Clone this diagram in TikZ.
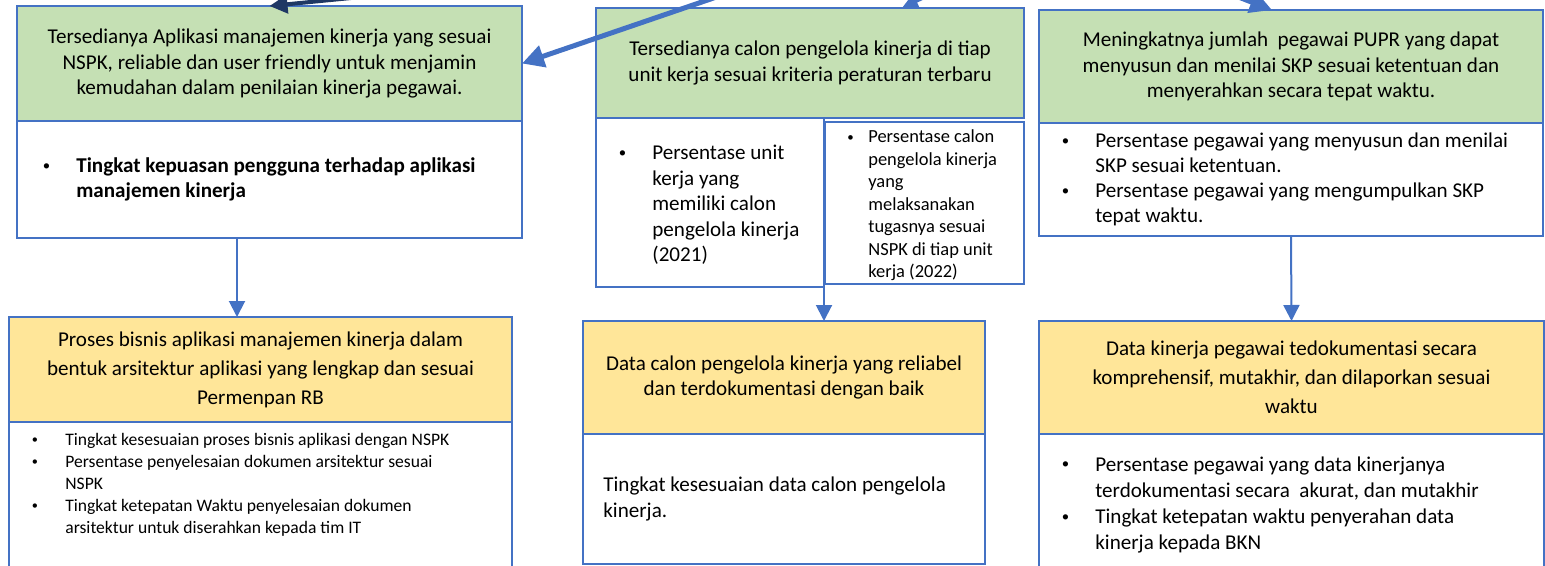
\documentclass[tikz,border=0pt]{standalone}
\usepackage{fontspec}
\setmainfont{Carlito}
\usetikzlibrary{arrows.meta,positioning}
\definecolor{bord}{HTML}{4472C4}
\definecolor{grn}{HTML}{C5E0B4}
\definecolor{ylw}{HTML}{FFE699}
\definecolor{navy}{HTML}{1F3864}
\tikzset{
  box/.style={draw=bord, line width=0.4mm, anchor=north west, inner sep=0pt, outer sep=0pt},
  goal/.style={box, fill=grn},
  outp/.style={box, fill=ylw},
  ind/.style={box, fill=white},
  hd/.style={font=\fontsize{12}{14.5}\selectfont, align=center},
  hdw/.style={font=\fontsize{12}{16.5}\selectfont, align=center},
  txt/.style={font=\fontsize{12}{14.5}\selectfont, align=left, inner sep=0pt, anchor=west},
  stxt/.style={txt, font=\fontsize{10}{12.5}\selectfont},
  vert/.style={-{Triangle[length=3.2mm,width=3.2mm]}, draw=bord, line width=0.4mm},
  fatarr/.style={-{Triangle[length=4.4mm,width=4.4mm]}, draw=bord, line width=1mm},
  navyarr/.style={-{Triangle[length=3.6mm,width=3.6mm]}, draw=navy, line width=0.8mm},
}
\newcommand{\bul}[1][6.7mm]{\llap{\makebox[#1][l]{\raisebox{0.2ex}{\scalebox{0.7}{\textbullet}}}}}

\begin{document}
\begin{tikzpicture}[x=0.2mm,y=-0.2mm]
\useasboundingbox (0,0) rectangle (1545,565);
\clip (0,0) rectangle (1545,565);

% ============ left column: aplikasi manajemen kinerja ============
\node[goal, minimum width=101mm, minimum height=23mm, hd] (g1) at (17,6)
  {Tersedianya Aplikasi manajemen kinerja yang sesuai\\NSPK, reliable dan user friendly untuk menjamin\\kemudahan dalam penilaian kinerja pegawai.};
\node[ind, minimum width=101mm, minimum height=23.4mm] (w1) at (17,121) {};
\node[txt] (w1t) at ([xshift=11.8mm]w1.west)
  {\bul\textbf{Tingkat kepuasan pengguna terhadap aplikasi}\\\textbf{manajemen kinerja}};
\node[outp, minimum width=100.6mm, minimum height=21mm, hdw] (y1) at (9,317)
  {Proses bisnis aplikasi manajemen kinerja dalam\\bentuk arsitektur aplikasi yang lengkap dan sesuai\\Permenpan RB};
\node[ind, minimum width=100.6mm, minimum height=32mm] (w4) at (9,422) {};
\node[stxt, anchor=north west] (w4t) at ([xshift=11.2mm,yshift=-2.2mm]w4.north west)
  {\bul Tingkat kesesuaian proses bisnis aplikasi dengan NSPK\\
   \bul Persentase penyelesaian dokumen arsitektur sesuai\\NSPK\\
   \bul Tingkat ketepatan Waktu penyelesaian dokumen\\arsitektur untuk diserahkan kepada tim IT};

% ============ middle column: calon pengelola kinerja ============
\node[goal, minimum width=85.6mm, minimum height=22mm, hd] (g2) at (596,8)
  {Tersedianya calon pengelola kinerja di tiap\\unit kerja sesuai kriteria peraturan terbaru};
\node[ind, minimum width=45.6mm, minimum height=33.8mm] (wl2) at (596,118) {};
\node[txt] (wl2t) at ([xshift=11.2mm,yshift=-0.5mm]wl2.west)
  {\bul Persentase unit\\kerja yang\\memiliki calon\\pengelola kinerja\\(2021)};
\node[ind, minimum width=39.8mm, minimum height=32.4mm] (wr2) at (825,122) {};
\node[txt, font=\fontsize{10.5}{12.8}\selectfont] (wr2t) at ([xshift=8.6mm,yshift=-0.5mm]wr2.west)
  {\bul[4.2mm]Persentase calon\\pengelola kinerja\\yang\\melaksanakan\\tugasnya sesuai\\NSPK di tiap unit\\kerja (2022)};
\node[outp, minimum width=80.4mm, minimum height=22.6mm, hd] (y2) at (583,321)
  {Data calon pengelola kinerja yang reliabel\\dan terdokumentasi dengan baik};
\node[ind, minimum width=80.4mm, minimum height=26mm] (w5) at (583,434) {};
\node[txt, font=\fontsize{12}{14.8}\selectfont] (w5t) at ([xshift=4mm]w5.west)
  {Tingkat kesesuaian data calon pengelola\\kinerja.};

% ============ right column: SKP pegawai ============
\node[goal, minimum width=100.8mm, minimum height=22.6mm, hd] (g3) at (1039,10)
  {Meningkatnya jumlah\ \ pegawai PUPR yang dapat\\menyusun dan menilai SKP sesuai ketentuan dan\\menyerahkan secara tepat waktu.};
\node[ind, minimum width=100.8mm, minimum height=22.6mm] (w3) at (1039,123) {};
\node[txt, font=\fontsize{12}{14.3}\selectfont] (w3t) at ([xshift=11.2mm]w3.west)
  {\bul Persentase pegawai yang menyusun dan menilai\\SKP sesuai ketentuan.\\
   \bul Persentase pegawai yang mengumpulkan SKP\\tepat waktu.};
\node[outp, minimum width=101mm, minimum height=22.6mm, hdw] (y3) at (1039,321)
  {Data kinerja pegawai tedokumentasi secara\\komprehensif, mutakhir, dan dilaporkan sesuai\\waktu};
\node[ind, minimum width=101mm, minimum height=30mm] (w6) at (1039,434) {};
\node[txt, font=\fontsize{12}{14.8}\selectfont, anchor=north west] (w6t) at ([xshift=11.2mm,yshift=-4.4mm]w6.north west)
  {\bul Persentase pegawai yang data kinerjanya\\terdokumentasi secara\ \ akurat, dan mutakhir\\
   \bul Tingkat ketepatan waktu penyerahan data\\kinerja kepada BKN};

% ============ connectors ============
\coordinate (c1) at (237,0);
\draw[vert] (w1.south -| c1) -- (y1.north -| c1);
\draw[vert] (wl2.south east) -- (y2.north -| wl2.south east);
\draw[vert] (w3.south) -- (y3.north);

% incoming arrows from above the frame
\coordinate (srcA) at (402,-7);
\coordinate (srcB) at (772,-22);
\coordinate (srcC) at (962,-20);
\coordinate (srcD) at (1192,-21);
\draw[navyarr] (srcA) -- (g1.north);
\draw[fatarr] (srcB) -- (g1.east);
\draw[vert, line width=0.6mm] (srcC) -- ([xshift=18.4mm]g2.north);
\draw[fatarr] (srcD) -- ([xshift=-3.8mm]g3.north);

\end{tikzpicture}
\end{document}
